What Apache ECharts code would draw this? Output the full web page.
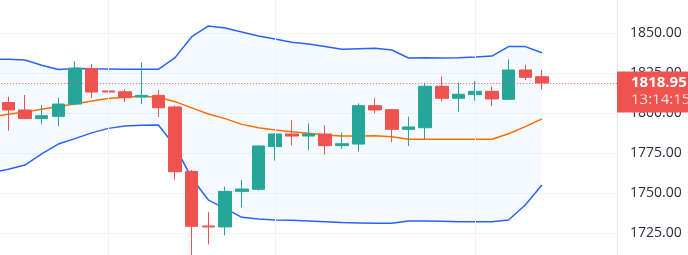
<!DOCTYPE html>
<html><head><meta charset="utf-8">
<script src="https://cdn.jsdelivr.net/npm/echarts@6/dist/echarts.min.js"></script>
<style>html,body{margin:0;padding:0;background:#fff;overflow:hidden}#c{width:688px;height:255px}</style>
</head><body><div id="c"></div>
<script>
// category 0 is the bar just left of the visible window
const categories = ['0','1','2','3','4','5','6','7','8','9','10','11','12','13','14','15','16','17','18','19','20','21','22','23','24','25','26','27','28','29','30','31','32','33','34','35','36','37'];
// [open, close, low, high]
const candles = [
  '-',
  [1806.7, 1802.1, 1789.2, 1810.4],
  [1802.1, 1796.7, 1796.4, 1811.5],
  [1796.7, 1798.5, 1793.1, 1805.0],
  [1798.1, 1805.8, 1792.1, 1809.8],
  [1805.8, 1828.3, 1805.4, 1832.7],
  [1827.9, 1813.3, 1809.8, 1830.8],
  [1814.0, 1813.3, 1805.0, 1819.8],
  [1813.5, 1809.8, 1807.1, 1815.0],
  [1810.2, 1811.25, 1805.8, 1831.7],
  [1811.25, 1803.5, 1797.7, 1814.6],
  [1804.0, 1763.5, 1758.75, 1805.0],
  [1763.75, 1729.4, 1711.5, 1764.6],
  [1729.6, 1729.0, 1718.1, 1738.3],
  [1729.0, 1751.25, 1723.75, 1754.2],
  [1751.25, 1752.7, 1741.25, 1758.3],
  [1752.5, 1779.6, 1751.7, 1780.0],
  [1779.2, 1787.1, 1770.4, 1787.5],
  [1787.1, 1785.8, 1780.0, 1795.8],
  [1785.8, 1787.1, 1777.1, 1793.75],
  [1787.1, 1779.8, 1774.2, 1792.5],
  [1779.8, 1781.0, 1777.9, 1787.9],
  [1780.8, 1804.8, 1776.0, 1806.25],
  [1804.8, 1802.1, 1800.0, 1809.4],
  [1802.3, 1790.0, 1781.9, 1802.7],
  [1790.0, 1791.5, 1779.6, 1797.9],
  [1791.0, 1816.9, 1783.75, 1818.75],
  [1816.9, 1809.4, 1807.3, 1822.9],
  [1809.4, 1811.9, 1801.0, 1819.2],
  [1811.7, 1813.75, 1807.9, 1820.2],
  [1813.75, 1809.0, 1804.6, 1816.7],
  [1808.75, 1827.1, 1808.3, 1833.75],
  [1827.1, 1822.5, 1820.8, 1830.4],
  [1822.9, 1818.95, 1815.0, 1827.1]
];
const upperBand = [1833.8, 1833.75, 1833.3, 1830.0, 1827.4, 1828.0, 1827.8, 1827.7, 1827.5, 1827.5, 1827.5, 1834.8, 1847.9, 1854.6, 1853.3, 1850.8, 1848.3, 1846.5, 1844.4, 1843.3, 1841.7, 1840.0, 1840.4, 1840.6, 1839.6, 1834.6, 1834.8, 1834.6, 1834.8, 1835.2, 1835.8, 1841.7, 1841.7, 1837.9];
const basisBand = [1797.9, 1799.4, 1800.8, 1802.5, 1804.2, 1805.8, 1807.7, 1809.2, 1810.0, 1810.6, 1810.0, 1807.3, 1803.4, 1799.6, 1796.7, 1793.1, 1791.0, 1789.6, 1788.5, 1787.5, 1786.5, 1785.8, 1785.8, 1786.0, 1785.4, 1783.75, 1783.75, 1783.75, 1783.8, 1783.8, 1783.8, 1787.2, 1791.7, 1796.5];
const lowerBand = [1762.9, 1765.0, 1767.7, 1774.6, 1780.8, 1784.2, 1787.8, 1790.6, 1792.1, 1792.5, 1792.7, 1779.4, 1759.4, 1745.8, 1740.6, 1735.0, 1734.0, 1733.3, 1733.1, 1732.7, 1732.3, 1731.7, 1731.5, 1731.25, 1731.25, 1732.7, 1732.7, 1732.5, 1732.3, 1732.3, 1732.3, 1733.3, 1742.7, 1755.2];
const sessionBreaks = ['7', '17', '29'];
const countdown = '13:14:15';
const yMin = 1700, yMax = 1875, yStep = 25;

const lastClose = candles[candles.length - 1][1];
const bandWidthData = upperBand.map((u, i) => +(u - lowerBand[i]).toFixed(2));
const UP = '#26a69a', DOWN = '#ef5350';
const FONT = '"Open Sans", Roboto, sans-serif';

const chart = echarts.init(document.getElementById('c'), null, {renderer: 'canvas'});
chart.setOption({
  animation: false,
  backgroundColor: '#ffffff',
  grid: {left: -16.72, right: 71, top: -6.67, bottom: -18.33, containLabel: false, outerBoundsMode: 'none'},
  xAxis: {
    type: 'category', data: categories, boundaryGap: true,
    axisLine: {show: false}, axisTick: {show: false}, axisLabel: {show: false}, splitLine: {show: false}
  },
  yAxis: {
    type: 'value', position: 'right', min: yMin, max: yMax, interval: yStep, scale: true,
    axisLine: {show: true, lineStyle: {color: '#e0e3eb', width: 1}},
    axisTick: {show: false},
    splitLine: {show: true, lineStyle: {color: '#f0f3fa', width: 1}},
    axisLabel: {color: '#2a2e39', fontSize: 14, fontFamily: FONT, margin: 13, formatter: v => v.toFixed(2)}
  },
  series: [
    {
      name: 'bbBase', type: 'line', data: lowerBand, stack: 'bb', symbol: 'none', silent: true,
      lineStyle: {opacity: 0}, z: 1,
      markLine: {
        silent: true, symbol: ['none', 'none'], label: {show: false},
        lineStyle: {color: '#f0f3fa', type: 'solid', width: 1},
        data: sessionBreaks.map(c => ({xAxis: c}))
      }
    },
    {
      name: 'bbFill', type: 'line', data: bandWidthData, stack: 'bb', symbol: 'none', silent: true,
      lineStyle: {opacity: 0}, areaStyle: {color: 'rgba(33,150,243,0.05)', opacity: 1}, z: 1
    },
    {name: 'Upper', type: 'line', data: upperBand, symbol: 'none', lineStyle: {color: '#2962ff', width: 1.5}, z: 2},
    {name: 'Lower', type: 'line', data: lowerBand, symbol: 'none', lineStyle: {color: '#2962ff', width: 1.5}, z: 2},
    {name: 'Basis', type: 'line', data: basisBand, symbol: 'none', lineStyle: {color: '#ff6d00', width: 1.5}, z: 2},
    {
      name: 'Price', type: 'candlestick', data: candles, barWidth: 13, z: 3,
      itemStyle: {color: UP, color0: DOWN, borderColor: UP, borderColor0: DOWN, borderWidth: 1},
      markLine: {
        silent: true, symbol: ['none', 'none'], animation: false,
        lineStyle: {color: DOWN, type: [1, 2], width: 1},
        data: [
          {
            yAxis: lastClose, lineStyle: {color: 'rgba(0,0,0,0)', opacity: 1},
            label: {
              show: true, position: 'end', distance: 0, align: 'left', verticalAlign: 'top',
              formatter: () => countdown, color: 'rgba(255,255,255,0.82)', fontSize: 15, fontFamily: FONT,
              backgroundColor: DOWN, padding: [8, 20, 3.5, 14], lineHeight: 18
            }
          },
          {
            yAxis: lastClose,
            label: {
              show: true, position: 'end', distance: 0, align: 'left', verticalAlign: 'middle',
              formatter: () => lastClose.toFixed(2), color: '#ffffff', fontSize: 15, fontWeight: 'bold', fontFamily: FONT,
              backgroundColor: DOWN, padding: [2.5, 20, 2.5, 14], lineHeight: 18
            }
          }
        ]
      }
    }
  ]
});
</script></body></html>
